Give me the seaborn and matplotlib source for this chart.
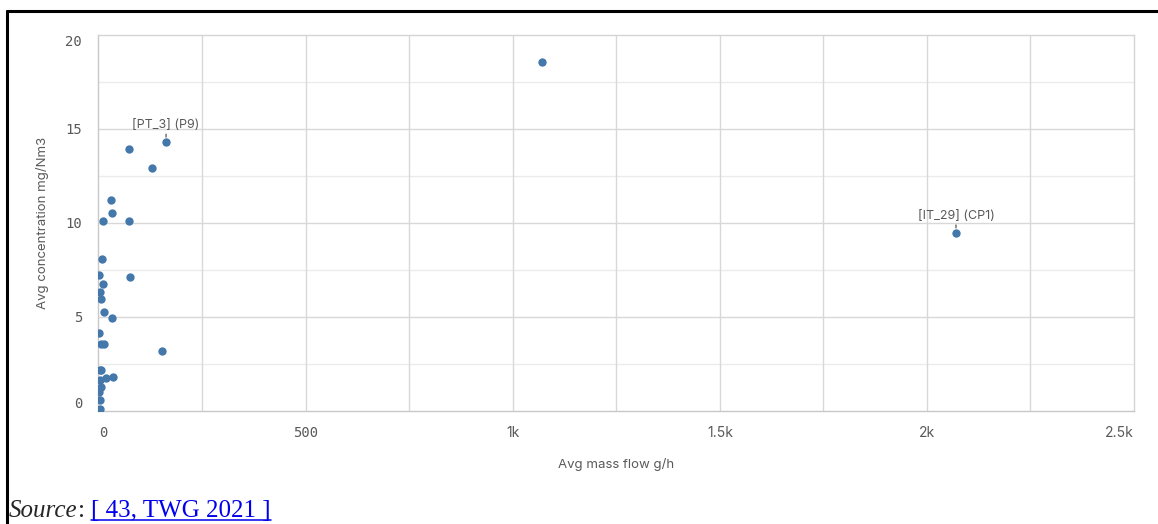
"""
Scatter of average mass flow vs average concentration (Qlik-style look)
"""

import matplotlib
matplotlib.use('Agg')
import matplotlib.pyplot as plt
from matplotlib.lines import Line2D
import seaborn as sns
import pandas as pd

# values
mass_flow = [162, 73, 129, 29, 31, 9, 72, 6.5, 1, 75, 9, 2.4, 5.6, 12, 32, 1, 5, 11,
             152, 5, 2, 2, 16, 34, 4, 1, 3, 2.4, 1070, 2070]
concentration = [14.31, 13.95, 12.91, 11.24, 10.53, 10.11, 10.09, 8.09, 7.22, 7.11, 6.74,
                 6.31, 5.96, 5.28, 4.96, 4.16, 3.58, 3.58, 3.19, 2.20, 2.18, 1.63, 1.76,
                 1.81, 1.28, 1.03, 0.59, 0.12, 18.56, 9.48]
labels = {0: '[PT_3] (P9)', 29: '[IT_29] (CP1)'}

x_ticks = [0, 500, 1000, 1500, 2000, 2500]
x_tick_labels = ['0', '500', '1k', '1.5k', '2k', '2.5k']
y_ticks = [0, 5, 10, 15, 20]

sns.set_style('white')
plt.rcParams['font.family'] = ['Inter', 'DejaVu Sans']

txt = '#595959'
grid_major = '#d8d8d8'
grid_minor = '#ebebeb'
dot = '#4477aa'

df = pd.DataFrame({'Avg mass flow g/h': mass_flow, 'Avg concentration mg/Nm3': concentration})

fig = plt.figure(figsize=(11.58, 5.24), dpi=100)
ax = fig.add_axes([98 / 1158, 1 - 411 / 524, (1134 - 98) / 1158, (411 - 35) / 524])

# gridlines first
for v in [2.5, 7.5, 12.5, 17.5]:
    ax.axhline(v, color=grid_minor, lw=1, zorder=0)
for v in [5, 10, 15]:
    ax.axhline(v, color=grid_major, lw=1, zorder=0)
for v in range(250, 2500, 250):
    ax.axvline(v, color=grid_major, lw=1, zorder=0)

sns.scatterplot(data=df, x='Avg mass flow g/h', y='Avg concentration mg/Nm3', ax=ax,
                color=dot, s=36, linewidth=0, zorder=3)

ax.set_xlim(-2.4, 2500)
ax.set_ylim(0, 20)

ax.set_xticks(x_ticks)
ax.set_xticklabels(x_tick_labels)
ax.set_yticks(y_ticks)
ax.set_yticklabels([str(v) for v in y_ticks])

for lab in ax.get_yticklabels():
    lab.set_fontfamily('DejaVu Sans Mono')
for lab in ax.get_xticklabels()[:2]:
    lab.set_fontfamily('DejaVu Sans Mono')
ax.get_yticklabels()[0].set_va('bottom')
ax.get_yticklabels()[-1].set_va('top')
ax.get_xticklabels()[0].set_ha('left')
ax.get_xticklabels()[-1].set_ha('right')

ax.tick_params(axis='both', colors='#c8c8c8', labelcolor=txt, labelsize=10,
               direction='out', width=1)
ax.tick_params(axis='y', length=7.5, pad=4)
ax.tick_params(axis='x', length=6.5, pad=4)

for s in ax.spines.values():
    s.set_color('#d4d4d4')
    s.set_linewidth(1)
ax.spines['left'].set_color('#c8c8c8')
ax.spines['bottom'].set_color('#c8c8c8')

ax.set_xlabel('Avg mass flow g/h', color=txt, fontsize=9.5)
ax.set_ylabel('Avg concentration mg/Nm3', color=txt, fontsize=9.5)
ax.xaxis.set_label_coords(0.5, -0.125)
ax.yaxis.set_label_coords(-0.047, 0.5)

# point labels with a short leader line
for i, name in labels.items():
    ax.annotate(name, xy=(mass_flow[i], concentration[i]), xytext=(0, 8),
                textcoords='offset points', ha='center', va='bottom',
                color=txt, fontsize=9,
                arrowprops=dict(arrowstyle='-', color='#555555', lw=0.9,
                                shrinkA=0, shrinkB=3.5, relpos=(0.5, 0)))

# black frame bits of the page
fig.add_artist(Line2D([7 / 1158, 1], [1 - 11 / 524, 1 - 11 / 524], color='black', lw=2.2,
                      transform=fig.transFigure))
fig.add_artist(Line2D([7 / 1158, 7 / 1158], [0, 1 - 11 / 524], color='black', lw=2.2,
                      transform=fig.transFigure))

# source line
base = 1 - 517 / 524
src = fig.text(9 / 1158, base, 'Source', fontfamily='Liberation Serif',
               style='italic', fontsize=18, va='baseline')
fig.canvas.draw()
r = fig.canvas.get_renderer()
bb = src.get_window_extent(r)
colon = fig.text(bb.x1 / 1158, base, ': ', fontfamily='Liberation Serif',
                 fontsize=18, va='baseline')
bb = colon.get_window_extent(r)
link = fig.text(bb.x1 / 1158, base, '[ 43, TWG 2021 ]', fontfamily='Liberation Serif',
                fontsize=18, va='baseline', color='#0000ee')
lb = link.get_window_extent(r)
fig.add_artist(Line2D([lb.x0 / 1158, lb.x1 / 1158], [(524 - 520) / 524, (524 - 520) / 524],
                      color='#0000ee', lw=1.1, transform=fig.transFigure))

fig.savefig('out.png', dpi=100)
